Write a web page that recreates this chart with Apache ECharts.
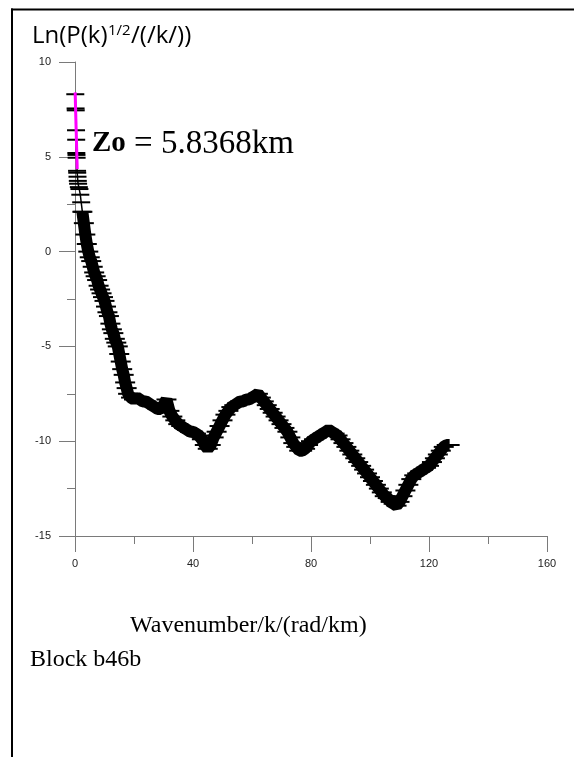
<!DOCTYPE html>
<html>
<head>
<meta charset="utf-8">
<script src="https://cdn.jsdelivr.net/npm/echarts@6/dist/echarts.min.js"></script>
<style>
html,body{margin:0;padding:0;background:#fff;}
#chart{width:574px;height:757px;}
</style>
</head>
<body>
<div id="chart"></div>
<script>
// Sparse low-wavenumber points (k in rad/km, ln amplitude)
var kTop  = [0.1, 0.2, 0.25, 0.35, 0.4, 0.45, 0.5, 0.55, 0.7, 0.75, 0.85, 0.95, 1.05, 1.3, 1.5, 1.8, 2.1, 2.5];
var lnTop = [8.3, 7.55, 7.45, 6.4, 5.9, 5.2, 5.1, 4.95, 4.26, 4.16, 3.95, 3.73, 3.58, 3.4, 3.3, 3.0, 2.6, 2.1];

// Main spectrum
var kMain = [2.5, 3, 3.5, 4, 4.5, 5, 5.5, 6, 6.5, 7, 7.5, 8, 8.5, 9, 9.5, 10, 10.5, 11, 11.5, 12, 12.5, 13, 13.5, 14, 14.5, 15, 15.5, 16, 16.5, 17, 17.5, 18,
  19, 20, 21, 22, 23, 24, 25, 26, 27, 28, 29, 30, 31, 32, 33, 34, 35, 36, 37, 38, 39, 40,
  41, 42, 43, 44, 45, 46, 47, 48, 49, 50, 51, 52, 53, 54, 55, 56, 57, 58, 59, 60,
  61, 62, 63, 64, 65, 66, 67, 68, 69, 70, 71, 72, 73, 74, 75, 76, 77, 78, 79, 80,
  81, 82, 83, 84, 85, 86, 87, 88, 89, 90, 91, 92, 93, 94, 95, 96, 97, 98, 99, 100,
  101, 102, 103, 104, 105, 106, 107, 108, 109, 110, 111, 112, 113, 114, 115, 116, 117, 118, 119, 120,
  121, 122, 123, 124, 125, 126, 127];
var lnMain = [2.1, 1.5, 0.9, 0.4, 0.0, -0.3, -0.5, -0.8, -1.1, -1.3, -1.5, -1.8, -2.0, -2.2, -2.4, -2.6, -2.9, -3.2, -3.4, -3.8, -4.1, -4.3, -4.6, -4.8, -5.0, -5.4, -5.8, -6.2, -6.5, -6.9, -7.2, -7.5,
  -7.7, -7.8, -7.7, -7.8, -7.9, -7.9, -8.0, -8.1, -8.2, -8.3, -8.3, -8.1, -7.8, -8.4, -8.7, -8.9, -9.1, -9.2, -9.3, -9.4, -9.5, -9.5,
  -9.6, -9.7, -9.9, -10.2, -10.4, -10.2, -9.8, -9.5, -9.2, -8.9, -8.6, -8.4, -8.2, -8.1, -8.0, -7.9, -7.9, -7.8, -7.8, -7.7,
  -7.6, -7.5, -7.7, -7.9, -8.1, -8.3, -8.5, -8.7, -8.9, -9.1, -9.3, -9.5, -9.8, -10.1, -10.3, -10.5, -10.5, -10.4, -10.2, -10.0,
  -9.9, -9.8, -9.7, -9.6, -9.5, -9.4, -9.5, -9.6, -9.7, -9.9, -10.1, -10.3, -10.5, -10.7, -10.9, -11.1, -11.3, -11.5, -11.7, -11.9,
  -12.1, -12.3, -12.5, -12.7, -12.9, -13.0, -13.2, -13.3, -13.4, -13.2, -12.9, -12.6, -12.3, -12.0, -11.8, -11.7, -11.6, -11.5, -11.4, -11.3,
  -11.1, -10.9, -10.7, -10.5, -10.3, -10.2, -10.2];

// Fitted line for depth estimate
var kFit  = [0.05, 0.75];
var lnFit = [8.4, 4.35];

var xTicks = {min: 0, max: 160, interval: 40};
var yTicks = {min: -15, max: 10, interval: 5};

function pairs(a, b) { return a.map(function (v, i) { return [v, b[i]]; }); }

var chart = echarts.init(document.getElementById('chart'), null, {renderer: 'canvas'});
var axisGrey = '#7a7a7a';
chart.setOption({
  animation: false,
  backgroundColor: '#fff',
  grid: {left: 75, right: 27, top: 62, bottom: 221, containLabel: false},
  xAxis: {
    type: 'value', min: xTicks.min, max: xTicks.max, interval: xTicks.interval,
    axisLine: {show: true, onZero: false, lineStyle: {color: axisGrey, width: 1}},
    axisTick: {show: true, length: 16, lineStyle: {color: axisGrey}},
    minorTick: {show: true, splitNumber: 2, length: 8, lineStyle: {color: axisGrey}},
    splitLine: {show: false},
    axisLabel: {margin: 22, fontSize: 11, fontFamily: 'Liberation Sans', color: '#222'}
  },
  yAxis: {
    type: 'value', min: yTicks.min, max: yTicks.max, interval: yTicks.interval,
    axisLine: {show: true, onZero: false, lineStyle: {color: axisGrey, width: 1}},
    axisTick: {show: true, length: 16, lineStyle: {color: axisGrey}},
    minorTick: {show: true, splitNumber: 2, length: 8, lineStyle: {color: axisGrey}},
    splitLine: {show: false},
    axisLabel: {margin: 24, fontSize: 11, fontFamily: 'Liberation Sans', color: '#222'}
  },
  series: [
    {
      type: 'line', data: pairs(kTop, lnTop), symbol: 'rect', symbolSize: [18, 2], showSymbol: true,
      itemStyle: {color: '#000'}, lineStyle: {color: '#000', width: 1.5}, z: 2
    },
    {
      type: 'line', data: pairs(kMain, lnMain), symbol: 'rect', symbolSize: [20, 2], showSymbol: true,
      itemStyle: {color: '#000'}, lineStyle: {color: '#000', width: 12}, z: 2
    },
    {
      type: 'line', data: pairs(kFit, lnFit), symbol: 'none',
      lineStyle: {color: '#ff00ff', width: 3}, z: 5
    }
  ],
  graphic: [
    {type: 'line', shape: {x1: 11, y1: 9.5, x2: 574, y2: 9.5}, style: {stroke: '#000', lineWidth: 2}},
    {type: 'line', shape: {x1: 12, y1: 8.5, x2: 12, y2: 757}, style: {stroke: '#000', lineWidth: 2}},
    {type: 'text', x: 32, y: 36, style: {text: 'Ln(P(k)', font: '24px "Open Sans"', fill: '#000', verticalAlign: 'middle'}},
    {type: 'text', x: 108, y: 31, style: {text: '1/2', font: '15px "Open Sans"', fill: '#000', verticalAlign: 'middle'}},
    {type: 'text', x: 131, y: 36, style: {text: '/(/k/))', font: '24px "Open Sans"', fill: '#000', verticalAlign: 'middle'}},
    {type: 'text', x: 92, y: 144, style: {
      text: '{z|Zo}{e| = 5.8368km}', verticalAlign: 'middle', fill: '#000',
      rich: {
        z: {fontSize: 29, fontFamily: 'Liberation Serif', fontWeight: 'bold'},
        e: {fontSize: 33, fontFamily: 'Liberation Serif'}
      }
    }},
    {type: 'text', x: 130, y: 626, style: {text: 'Wavenumber/k/(rad/km)', font: '24px "Liberation Serif"', fill: '#000', verticalAlign: 'middle'}},
    {type: 'text', x: 30, y: 660, style: {text: 'Block b46b', font: '24px "Liberation Serif"', fill: '#000', verticalAlign: 'middle'}}
  ]
});
</script>
</body>
</html>
